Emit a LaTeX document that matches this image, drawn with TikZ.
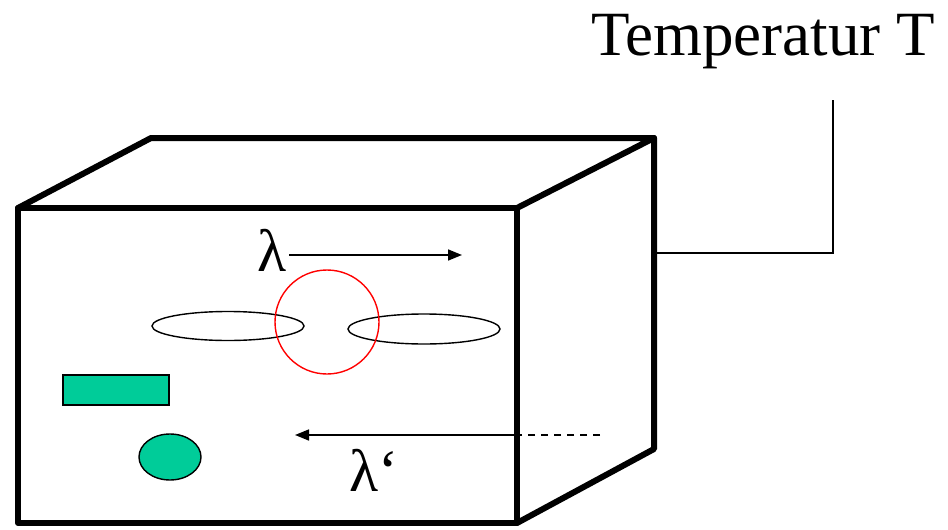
\documentclass[tikz,border=0pt]{standalone}
\usepackage{fontspec}
\setmainfont{Liberation Serif}
\usetikzlibrary{arrows.meta,shapes.geometric}
\definecolor{teal1}{HTML}{00CC99}
\tikzset{
  boxline/.style={line width=6pt,line cap=round,line join=round},
  thinline/.style={line width=1.4pt},
  arr/.style={line width=1.6pt,-{Triangle[length=14pt,width=11pt]}},
  lbl/.style={font=\fontsize{60}{60}\selectfont,inner sep=0pt},
  oval/.style={ellipse,draw,line width=1.4pt,inner sep=0pt},
}
\begin{document}
\begin{tikzpicture}[x=1pt,y=-1pt]
\useasboundingbox (0,0) rectangle (948,530);
% box corners
\coordinate (fa) at (18,208);
\coordinate (fb) at (517,208);
\coordinate (fc) at (517,523);
\coordinate (fd) at (18,523);
\coordinate (ba) at (151,138);
\coordinate (bb) at (654,138);
\coordinate (bc) at (654,449);
\draw[boxline] (fa) -- (fb) -- (fc) -- (fd) -- cycle;
\draw[boxline] (fa) -- (ba) -- (bb) -- (fb);
\draw[boxline] (bb) -- (bc) -- (fc);
% temperature connector
\node[font=\fontsize{63}{63}\selectfont,inner sep=0pt,anchor=base east] (temp) at (935,55) {Temperatur T};
\coordinate (tp) at (655,253);
\coordinate (tc) at (833,253);
\coordinate (tt) at (833,100);
\draw[thinline] (tp) -- (tc) -- (tt);
% ellipses and circle
\node[oval,minimum width=152pt,minimum height=29pt] (e1) at (228,326) {};
\node[oval,minimum width=152pt,minimum height=30pt] (e2) at (424,329) {};
\node[circle,draw=red,line width=1.4pt,minimum size=104pt,inner sep=0pt] (c) at (327,322) {};
% green shapes
\node[rectangle,draw,fill=teal1,line width=1.4pt,minimum width=106pt,minimum height=30pt,inner sep=0pt] (r) at (116,390) {};
\node[ellipse,draw,fill=teal1,line width=1.4pt,minimum width=62pt,minimum height=46pt,inner sep=0pt] (g) at (170,457) {};
% lambda arrows
\node[lbl,anchor=base west] (l1) at (257,271) {λ};
\coordinate (a1) at (462,255);
\draw[arr] (l1.east |- a1) ++(3,0) coordinate (a0) -- (a1);
\coordinate (d0) at (600,435);
\coordinate (d1) at (517,435);
\coordinate (a2) at (295,435);
\draw[line width=1.6pt,dash pattern=on 7pt off 6pt] (d0) -- (d1);
\draw[arr] (d1) -- (a2);
\node[lbl,anchor=base west] (l2) at (349,491) {λ‘};
\end{tikzpicture}
\end{document}
